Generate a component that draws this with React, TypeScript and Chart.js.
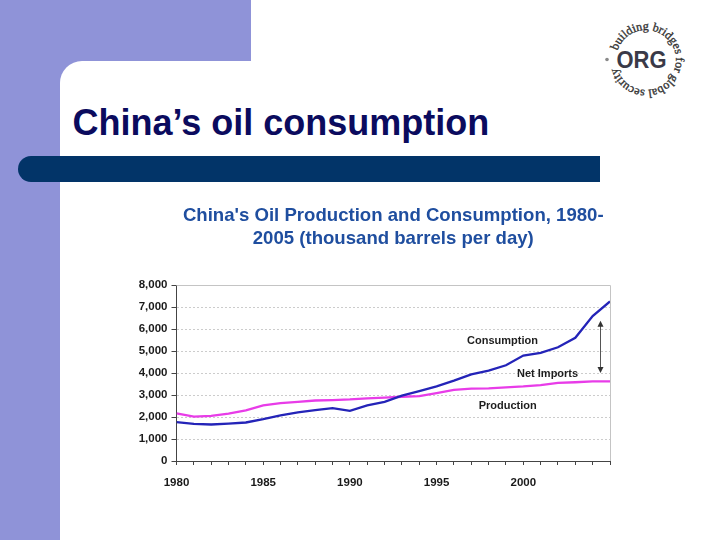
import React, { useEffect, useRef } from "react";
import { Chart, registerables } from "chart.js";

Chart.register(...registerables);

// ---- data ----
const years = [1980, 1981, 1982, 1983, 1984, 1985, 1986, 1987, 1988, 1989, 1990, 1991, 1992, 1993, 1994, 1995, 1996, 1997, 1998, 1999, 2000, 2001, 2002, 2003, 2004, 2005];
const consumption = [1770, 1690, 1660, 1700, 1750, 1900, 2070, 2210, 2310, 2400, 2280, 2530, 2690, 2970, 3180, 3390, 3650, 3940, 4110, 4350, 4790, 4920, 5170, 5600, 6590, 7250];
const production = [2160, 2020, 2050, 2150, 2300, 2530, 2630, 2690, 2750, 2770, 2800, 2850, 2880, 2920, 2950, 3090, 3230, 3290, 3300, 3350, 3390, 3450, 3550, 3580, 3620, 3620];
const chartTitle = ["China's Oil Production and Consumption, 1980-", "2005 (thousand barrels per day)"];
const slideTitle = "China\u2019s oil consumption";
const noteLabels = ["Consumption", "Net Imports", "Production"];
const noteX = [1998.8, 2001.4, 1999.1];
const noteY = [5450, 3970, 2520];
const arrowX = 2004.4;
const arrowFrom = 6380;
const arrowTo = 4000;
const yTicksMax = 8000;

const SANS = "'Liberation Sans', Arial, sans-serif";
const PURPLE = "#8f93d8";
const BAR = "#023468";
const NAVY = "#0b0b5e";

const notesPlugin = {
  id: "notesPlugin",
  beforeDatasetsDraw(chart: any) {
    const { ctx, chartArea: a } = chart;
    ctx.save();
    ctx.strokeStyle = "#c4c4c4";
    ctx.lineWidth = 1;
    ctx.beginPath();
    ctx.moveTo(a.left, Math.round(a.top) + 0.5);
    ctx.lineTo(Math.round(a.right) + 0.5, Math.round(a.top) + 0.5);
    ctx.lineTo(Math.round(a.right) + 0.5, a.bottom);
    ctx.stroke();
    ctx.restore();
  },
  afterDatasetsDraw(chart: any) {
    const { ctx } = chart;
    const xs = chart.scales.x;
    const ys = chart.scales.y;
    ctx.save();
    ctx.fillStyle = "#1e1e1e";
    ctx.font = `bold 11px ${SANS}`;
    ctx.textAlign = "center";
    ctx.textBaseline = "middle";
    noteLabels.forEach((t, i) => {
      ctx.fillText(t, xs.getPixelForValue(noteX[i]), ys.getPixelForValue(noteY[i]));
    });
    const ax = Math.round(xs.getPixelForValue(arrowX)) + 0.5;
    const y1 = ys.getPixelForValue(arrowFrom);
    const y2 = ys.getPixelForValue(arrowTo);
    ctx.strokeStyle = "#555";
    ctx.fillStyle = "#333";
    ctx.lineWidth = 1;
    ctx.beginPath();
    ctx.moveTo(ax, y1 + 4);
    ctx.lineTo(ax, y2 - 4);
    ctx.stroke();
    ctx.beginPath();
    ctx.moveTo(ax, y1);
    ctx.lineTo(ax - 3, y1 + 6);
    ctx.lineTo(ax + 3, y1 + 6);
    ctx.closePath();
    ctx.fill();
    ctx.beginPath();
    ctx.moveTo(ax, y2);
    ctx.lineTo(ax - 3, y2 - 6);
    ctx.lineTo(ax + 3, y2 - 6);
    ctx.closePath();
    ctx.fill();
    ctx.restore();
  },
};

function OilChart() {
  const ref = useRef<HTMLCanvasElement>(null);
  useEffect(() => {
    if (!ref.current) return;
    const tickFont = { family: SANS, size: 11.5, weight: "bold" as const };
    const chart = new Chart(ref.current, {
      type: "line",
      data: {
        datasets: [
          {
            label: "Consumption",
            data: years.map((y, i) => ({ x: y, y: consumption[i] })),
            borderColor: "#2424b8",
            borderWidth: 2.3,
            pointRadius: 0,
            tension: 0,
          },
          {
            label: "Production",
            data: years.map((y, i) => ({ x: y, y: production[i] })),
            borderColor: "#e83ce8",
            borderWidth: 2.3,
            pointRadius: 0,
            tension: 0,
          },
        ],
      },
      options: {
        responsive: false,
        animation: false,
        events: [],
        layout: { padding: { left: 126.5, right: 110, top: 196, bottom: 39 } },
        plugins: {
          legend: { display: false },
          tooltip: { enabled: false },
          title: {
            display: true,
            text: chartTitle,
            fullSize: false,
            color: "#1f4e9f",
            font: { family: SANS, size: 18.6, weight: "bold", lineHeight: "23px" },
            padding: { top: 8.5, bottom: 34.5 },
          },
        },
        scales: {
          x: {
            type: "linear",
            min: years[0],
            max: years[years.length - 1],
            afterFit: (s: any) => {
              s.height = 40;
            },
            ticks: {
              stepSize: 1,
              autoSkip: false,
              maxRotation: 0,
              color: "#1a1a1a",
              font: tickFont,
              padding: 10.5,
              callback: (v: any) => (Number(v) % 5 === 0 && Number(v) < 2005 ? String(v) : ""),
            },
            grid: { drawOnChartArea: false, drawTicks: true, tickLength: 4, tickColor: "#444" },
            border: { color: "#444", width: 1 },
          },
          y: {
            min: 0,
            max: yTicksMax,
            afterFit: (s: any) => {
              s.width = 50;
            },
            ticks: {
              stepSize: 1000,
              color: "#1a1a1a",
              font: tickFont,
              padding: 4,
              callback: (v: any) => Number(v).toLocaleString("en-US"),
            },
            grid: {
              color: (c: any) => (c.tick && (c.tick.value === 0 || c.tick.value === yTicksMax) ? "rgba(0,0,0,0)" : "#cccccc"),
              tickColor: "#444",
              tickLength: 5,
            },
            border: { color: "#444", width: 1, dash: [2, 2] },
          },
        },
      },
      plugins: [notesPlugin],
    } as any);
    return () => chart.destroy();
  }, []);
  return <canvas ref={ref} width={720} height={540} style={{ position: "absolute", left: 0, top: 0 }} />;
}

function Logo() {
  const cx = 46;
  const cy = 50;
  const r = 30;
  const a0 = (288 * Math.PI) / 180;
  const p0x = cx + r * Math.sin(a0);
  const p0y = cy - r * Math.cos(a0);
  const p1x = cx - r * Math.sin(a0);
  const p1y = cy + r * Math.cos(a0);
  const d = `M ${p0x} ${p0y} A ${r} ${r} 0 1 1 ${p1x} ${p1y} A ${r} ${r} 0 1 1 ${p0x} ${p0y}`;
  return (
    <svg width={95} height={95} style={{ position: "absolute", left: 600, top: 10 }}>
      <defs>
        <path id="ringPath" d={d} fill="none" />
      </defs>
      <text
        fontFamily="'Liberation Serif', 'DejaVu Serif', serif"
        fontSize={12}
        fill="#333"
        stroke="#333"
        strokeWidth={0.35}
      >
        <textPath href="#ringPath" textLength={171} lengthAdjust="spacingAndGlyphs">
          building bridges for global security
        </textPath>
      </text>
      <circle cx={7} cy={49.5} r={1.8} fill="#8a8a8a" />
      <text x={16.5} y={57.5} fontFamily={SANS} fontWeight="bold" fontSize={23} fill="#3a3a48" textLength={50} lengthAdjust="spacingAndGlyphs">
        ORG
      </text>
    </svg>
  );
}

export default function App() {
  return (
    <div style={{ position: "absolute", left: 0, top: 0, width: 720, height: 540, overflow: "hidden", background: "#fff" }}>
      <div style={{ position: "absolute", left: 0, top: 0, width: 251, height: 540, background: PURPLE }} />
      <div style={{ position: "absolute", left: 60, top: 61, width: 660, height: 479, background: "#fff", borderTopLeftRadius: 22 }} />
      <div
        style={{
          position: "absolute",
          left: 18,
          top: 156,
          width: 582,
          height: 26,
          background: BAR,
          borderTopLeftRadius: 13,
          borderBottomLeftRadius: 13,
        }}
      />
      <div
        style={{
          position: "absolute",
          left: 72.5,
          top: 104.5,
          fontFamily: SANS,
          fontWeight: "bold",
          fontSize: 36,
          lineHeight: "36px",
          color: NAVY,
          whiteSpace: "nowrap",
        }}
      >
        {slideTitle}
      </div>
      <Logo />
      <OilChart />
    </div>
  );
}
